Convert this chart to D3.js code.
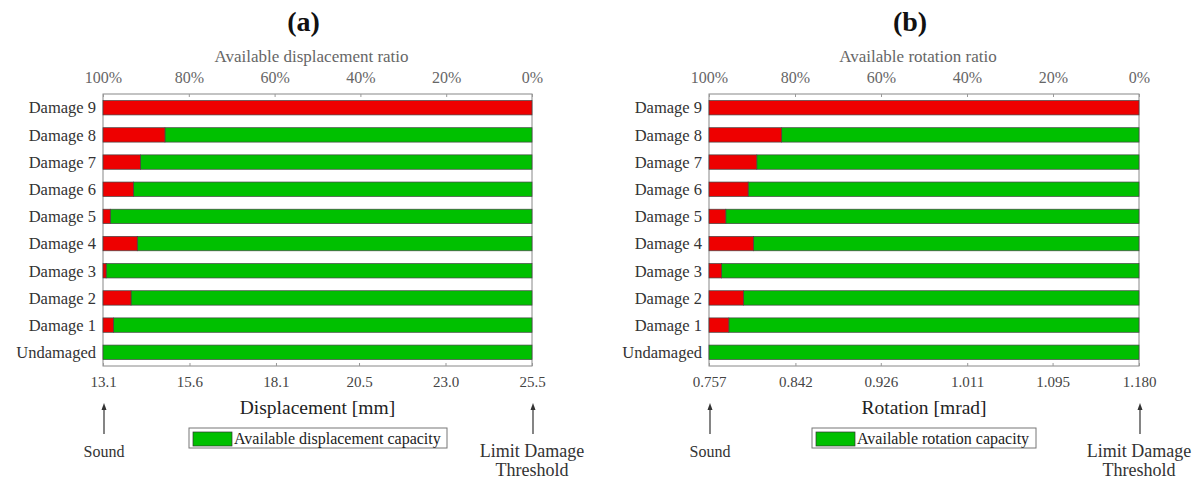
<!DOCTYPE html>
<html>
<head>
<meta charset="utf-8">
<script src="https://cdn.jsdelivr.net/npm/d3@7"></script>
<style>
  body { margin: 0; background: #fff; }
  svg { display: block; font-family: "Liberation Serif", "DejaVu Serif", serif; }
</style>
</head>
<body>
<svg id="chart" width="1197" height="479"></svg>
<script>
// rows, bottom to top
var categories = ["Undamaged", "Damage 1", "Damage 2", "Damage 3", "Damage 4",
                  "Damage 5", "Damage 6", "Damage 7", "Damage 8", "Damage 9"]

// demand reached by each state (red part runs from sound value to this)
var dispValues = [13.1, 13.40, 13.91, 13.19, 14.09, 13.31, 13.98, 14.18, 14.89, 25.5]
var rotValues = [0.757, 0.7765, 0.791, 0.7694, 0.8008, 0.7735, 0.7955, 0.804, 0.8285, 1.180]

var dispTicks = ["13.1", "15.6", "18.1", "20.5", "23.0", "25.5"]
var rotTicks = ["0.757", "0.842", "0.926", "1.011", "1.095", "1.180"]
var ratioTicks = ["100%", "80%", "60%", "40%", "20%", "0%"]

var RED = "#ee0000"
var GREEN = "#00c000"

var svg = d3.select("#chart")

var drawPanel = function(opt) {
  var x = d3.scaleLinear()
    .domain([+opt.ticks[0], +opt.ticks[opt.ticks.length - 1]])
    .range([opt.left, opt.right])
  var xr = d3.scaleLinear().domain([100, 0]).range([opt.left, opt.right])
  var y = d3.scaleBand()
    .domain(categories.slice().reverse())
    .range([94, 366])
    .paddingInner(0.47)
    .paddingOuter(0.24)

  var g = svg.append("g")
  var lo = x.domain()[0], hi = x.domain()[1]

  // frame
  g.append("rect")
    .attr("x", opt.left).attr("y", 94)
    .attr("width", opt.right - opt.left).attr("height", 272)
    .attr("fill", "none").attr("stroke", "#888").attr("stroke-width", 1)

  // top ratio axis
  var top = g.append("g")
    .attr("transform", "translate(0,94)")
    .call(d3.axisTop(xr).tickValues(ratioTicks.map(function(d) { return parseFloat(d) }))
      .tickSize(-3).tickPadding(11).tickFormat(function(d, i) { return ratioTicks[i] }))
  top.attr("font-family", null).attr("font-size", 16)
  top.select(".domain").remove()
  top.selectAll("text").attr("fill", "#666")
  top.selectAll("line").attr("stroke", "#999")

  // bottom value axis
  var bot = g.append("g")
    .attr("transform", "translate(0,366)")
    .call(d3.axisBottom(x).tickValues(opt.ticks.map(Number))
      .tickSize(-3).tickPadding(10).tickFormat(function(d, i) { return opt.ticks[i] }))
  bot.attr("font-family", null).attr("font-size", 15)
  bot.select(".domain").remove()
  bot.selectAll("text").attr("fill", "#444")
  bot.selectAll("line").attr("stroke", "#999")

  // bars: red demand, green remaining capacity
  var rows = categories.map(function(c, i) { return {cat: c, v: opt.values[i]} })
  g.selectAll(".cap").data(rows).enter().append("rect")
    .attr("x", function(d) { return x(d.v) })
    .attr("y", function(d) { return y(d.cat) })
    .attr("width", function(d) { return x(hi) - x(d.v) })
    .attr("height", y.bandwidth())
    .attr("fill", GREEN).attr("stroke", "#444").attr("stroke-width", 0.7)
  g.selectAll(".dem").data(rows.filter(function(d) { return d.v > lo })).enter().append("rect")
    .attr("x", x(lo))
    .attr("y", function(d) { return y(d.cat) })
    .attr("width", function(d) { return x(d.v) - x(lo) })
    .attr("height", y.bandwidth())
    .attr("fill", RED).attr("stroke", "#444").attr("stroke-width", 0.7)

  // row labels
  g.selectAll(".lab").data(categories).enter().append("text")
    .attr("x", opt.left - 7)
    .attr("y", function(d) { return y(d) + y.bandwidth() / 2 })
    .attr("dy", "0.35em")
    .attr("text-anchor", "end")
    .attr("font-size", 16.5).attr("fill", "#333")
    .text(function(d) { return d })

  var cx = (opt.left + opt.right) / 2
  g.append("text").attr("x", cx - 14).attr("y", 31).attr("text-anchor", "middle")
    .attr("font-size", 28).attr("font-weight", "bold").attr("fill", "#111").text(opt.title)
  g.append("text").attr("x", cx - 6).attr("y", 62).attr("text-anchor", "middle")
    .attr("font-size", 17).attr("fill", "#666").text(opt.ratioLabel)
  g.append("text").attr("x", cx).attr("y", 414).attr("text-anchor", "middle")
    .attr("font-size", 19.5).attr("fill", "#222").text(opt.axisLabel)

  // legend
  var lg = g.append("g").attr("transform", "translate(" + opt.legendX + ",428)")
  lg.append("rect").attr("width", opt.legendW).attr("height", 20)
    .attr("fill", "#fff").attr("stroke", "#777")
  lg.append("rect").attr("x", 4).attr("y", 4).attr("width", 39).attr("height", 14)
    .attr("fill", GREEN).attr("stroke", "#333").attr("stroke-width", 0.7)
  lg.append("text").attr("x", 45).attr("y", 15.5).attr("font-size", 16).attr("fill", "#222")
    .text(opt.legendText)

  // arrows + end notes
  ;[lo, hi].forEach(function(v) {
    var ax = x(v) + 1
    g.append("line").attr("x1", ax).attr("x2", ax).attr("y1", 406).attr("y2", 434)
      .attr("stroke", "#333").attr("stroke-width", 1.2)
    g.append("path").attr("d", "M" + (ax - 2.5) + ",410 L" + ax + ",403 L" + (ax + 2.5) + ",410 Z")
      .attr("fill", "#333")
  })
  g.append("text").attr("x", x(lo) + 1).attr("y", 457).attr("text-anchor", "middle")
    .attr("font-size", 16).attr("fill", "#333").text("Sound")
  g.append("text").attr("x", x(hi)).attr("y", 457).attr("text-anchor", "middle")
    .attr("font-size", 18).attr("fill", "#333").text("Limit Damage")
  g.append("text").attr("x", x(hi)).attr("y", 476).attr("text-anchor", "middle")
    .attr("font-size", 18).attr("fill", "#333").text("Threshold")
}

drawPanel({
  left: 103, right: 532, values: dispValues, ticks: dispTicks,
  title: "(a)", ratioLabel: "Available displacement ratio",
  axisLabel: "Displacement [mm]", legendText: "Available displacement capacity",
  legendX: 189, legendW: 258
})

drawPanel({
  left: 709, right: 1139, values: rotValues, ticks: rotTicks,
  title: "(b)", ratioLabel: "Available rotation ratio",
  axisLabel: "Rotation [mrad]", legendText: "Available rotation capacity",
  legendX: 812, legendW: 224
})
</script>
</body>
</html>
